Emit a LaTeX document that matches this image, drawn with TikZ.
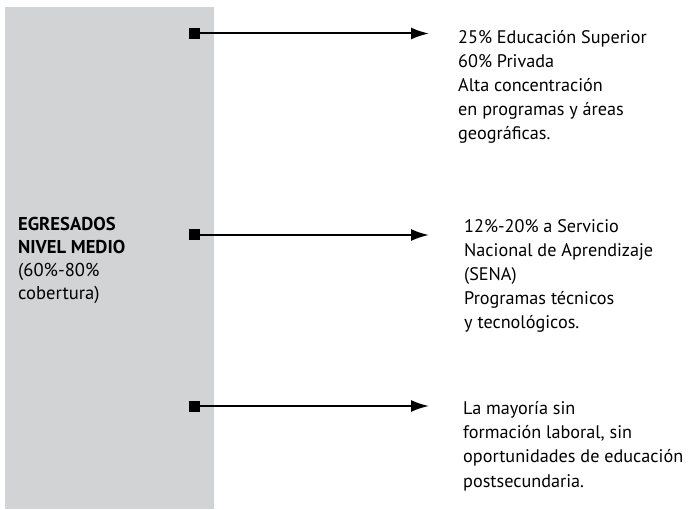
\documentclass[tikz,border=0pt]{standalone}
\usepackage{fontspec}
\setmainfont{PT Sans}
\usetikzlibrary{arrows.meta}
\definecolor{panel}{HTML}{D1D3D4}
\tikzset{
  sq/.style={fill=black,inner sep=0pt,minimum size=11pt},
  conn/.style={line width=2pt,-{Latex[length=18pt,width=12pt]}},
  txt/.style={anchor=base west,inner sep=0pt,align=left,font=\fontsize{18.2pt}{24.2pt}\selectfont},
  lefttxt/.style={anchor=base west,inner sep=0pt,align=left,font=\fontsize{18.6pt}{23pt}\selectfont}
}
\begin{document}
\begin{tikzpicture}[x=1pt,y=-1pt]
\useasboundingbox (0,0) rectangle (696,510);
\node[fill=panel,inner sep=0pt,minimum width=209pt,minimum height=502pt] (panel) at (109.5,258) {};
% anchors are at the baseline of the last line
\node[lefttxt] (lbl) at (18,300) {\textbf{EGRESADOS}\\\textbf{NIVEL MEDIO}\\(60\%-80\%\\cobertura)};
\node[sq] (s1) at (194.5,33.5) {};
\node[sq] (s2) at (194.5,235) {};
\node[sq] (s3) at (194.5,406) {};
\coordinate (e1) at (429,33.5);
\coordinate (e2) at (429,235);
\coordinate (e3) at (429,406);
\draw[conn] (s1.center) -- (e1);
\draw[conn] (s2.center) -- (e2);
\draw[conn] (s3.center) -- (e3);
\node[txt] (t1) at (458,140) {25\% Educación Superior\\60\% Privada\\Alta concentración\\en programas y áreas\\geográficas.};
\node[txt] (t2) at (464,329) {12\%-20\% a Servicio\\Nacional de Aprendizaje\\(SENA)\\Programas técnicos\\y tecnológicos.};
\node[txt] (t3) at (463,487) {La mayoría sin\\formación laboral, sin\\oportunidades de educación\\postsecundaria.};
\end{tikzpicture}
\end{document}
